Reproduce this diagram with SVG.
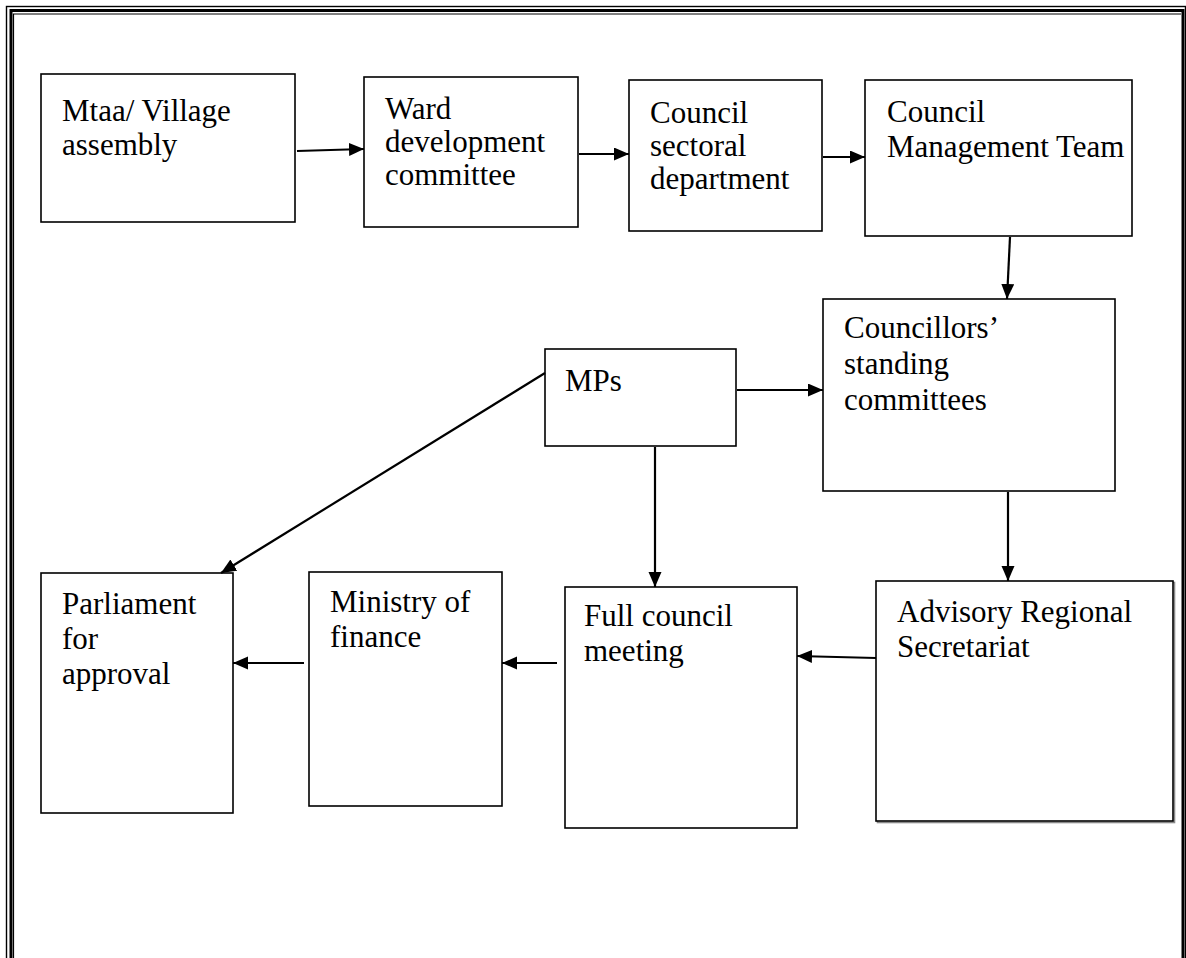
<svg xmlns="http://www.w3.org/2000/svg" width="1186" height="958" viewBox="0 0 1186 958">
  <style>
    .box { fill: #ffffff; stroke: #000000; stroke-width: 1.6; }
    .shadow { fill: none; stroke: #8a8a8a; stroke-width: 1.6; }
    .lbl { font-family: "Liberation Serif", "Times New Roman", serif; font-size: 31px; fill: #000000; }
    .conn { stroke: #000000; stroke-width: 2.2; fill: none; marker-end: url(#arrow); }
    .frame { fill: none; stroke: #000000; }
  </style>
  <defs>
    <marker id="arrow" markerUnits="userSpaceOnUse" markerWidth="16" markerHeight="14" refX="15" refY="6.5" orient="auto">
      <path d="M0,0 L15,6.5 L0,13 Z" fill="#000000"/>
    </marker>
  </defs>
  <rect width="1186" height="958" fill="#ffffff"/>

  <g id="page-border">
    <rect class="frame" x="6.5" y="6.5" width="1179" height="1000" stroke-width="1.4"/>
    <path class="frame" d="M11,1000 V10.5 H1183 V1000" stroke-width="3"/>
    <path class="frame" d="M13.5,1000 V14 H1181" stroke-width="1.2"/>
  </g>

  <g id="n-mtaa">
    <rect class="box" x="41" y="74" width="254" height="148"/>
    <text class="lbl" x="62" y="121">Mtaa/ Village</text>
    <text class="lbl" x="62" y="155">assembly</text>
  </g>
  <g id="n-ward">
    <rect class="box" x="364" y="77" width="214" height="150"/>
    <text class="lbl" x="385" y="119">Ward</text>
    <text class="lbl" x="385" y="152">development</text>
    <text class="lbl" x="385" y="185">committee</text>
  </g>
  <g id="n-sectoral">
    <rect class="box" x="629" y="80" width="193" height="151"/>
    <text class="lbl" x="650" y="123">Council</text>
    <text class="lbl" x="650" y="156">sectoral</text>
    <text class="lbl" x="650" y="189">department</text>
  </g>
  <g id="n-cmt">
    <rect class="box" x="865" y="80" width="267" height="156"/>
    <text class="lbl" x="887" y="122">Council</text>
    <text class="lbl" x="887" y="157">Management Team</text>
  </g>
  <g id="n-councillors">
    <rect class="box" x="823" y="299" width="292" height="192"/>
    <text class="lbl" x="844" y="338">Councillors’</text>
    <text class="lbl" x="844" y="374">standing</text>
    <text class="lbl" x="844" y="410">committees</text>
  </g>
  <g id="n-mps">
    <rect class="box" x="545" y="349" width="191" height="97"/>
    <text class="lbl" x="565" y="391">MPs</text>
  </g>
  <g id="n-advisory">
    <rect class="shadow" x="877.5" y="582.5" width="297" height="240"/>
    <rect class="box" x="876" y="581" width="297" height="240"/>
    <text class="lbl" x="897" y="622">Advisory Regional</text>
    <text class="lbl" x="897" y="657">Secretariat</text>
  </g>
  <g id="n-fullcouncil">
    <rect class="box" x="565" y="587" width="232" height="241"/>
    <text class="lbl" x="584" y="626">Full council</text>
    <text class="lbl" x="584" y="661">meeting</text>
  </g>
  <g id="n-ministry">
    <rect class="box" x="309" y="572" width="193" height="234"/>
    <text class="lbl" x="330" y="612">Ministry of</text>
    <text class="lbl" x="330" y="647">finance</text>
  </g>
  <g id="n-parliament">
    <rect class="box" x="41" y="573" width="192" height="240"/>
    <text class="lbl" x="62" y="614">Parliament</text>
    <text class="lbl" x="62" y="649">for</text>
    <text class="lbl" x="62" y="684">approval</text>
  </g>

  <g id="connectors">
    <line class="conn" x1="297" y1="151" x2="364" y2="149"/>
    <line class="conn" x1="579" y1="154" x2="629" y2="154"/>
    <line class="conn" x1="823" y1="157" x2="865" y2="157"/>
    <line class="conn" x1="1010" y1="237" x2="1007" y2="299"/>
    <line class="conn" x1="737" y1="390" x2="823" y2="390"/>
    <line class="conn" x1="655" y1="447" x2="655" y2="587"/>
    <line class="conn" x1="545" y1="373" x2="221" y2="573"/>
    <line class="conn" x1="1008" y1="492" x2="1008" y2="581"/>
    <line class="conn" x1="876" y1="658" x2="797" y2="656"/>
    <line class="conn" x1="557" y1="663" x2="502" y2="663"/>
    <line class="conn" x1="304" y1="663" x2="233" y2="663"/>
  </g>
</svg>
